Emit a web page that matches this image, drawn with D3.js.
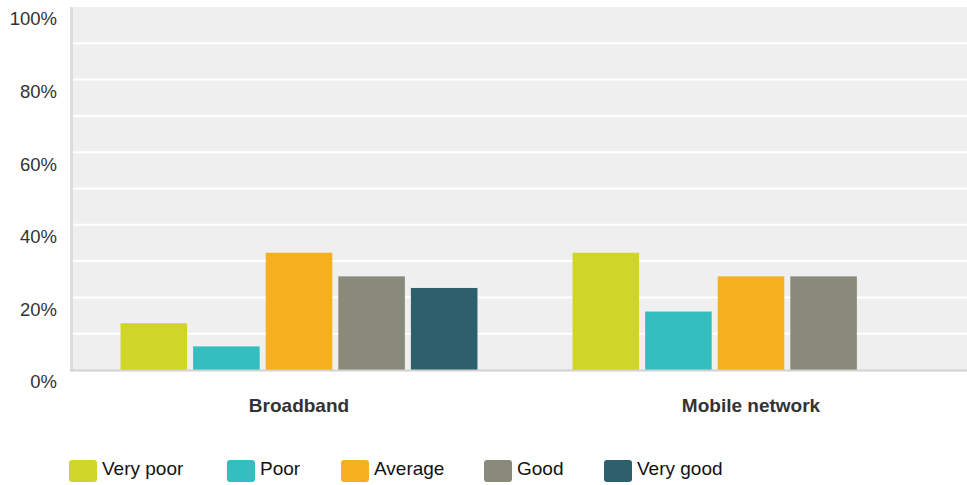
<!DOCTYPE html>
<html>
<head>
<meta charset="utf-8">
<script src="https://cdn.jsdelivr.net/npm/d3@7"></script>
<style>
  html, body { margin: 0; padding: 0; background: #ffffff; overflow: hidden; }
  svg { display: block; font-family: "Liberation Sans", Arial, sans-serif; }
</style>
</head>
<body>
<svg id="chart" width="967" height="485"></svg>
<script>
const categories = ["Broadband", "Mobile network"];
const seriesNames = ["Very poor", "Poor", "Average", "Good", "Very good"];
const seriesColors = ["#d0d52a", "#34bec0", "#f6af1e", "#8a8a7a", "#2e5f6d"];
const veryPoor = [12.9, 32.3];
const poor = [6.5, 16.1];
const average = [32.3, 25.8];
const good = [25.8, 25.8];
const veryGood = [22.6, 0];
const yTicks = [0, 20, 40, 60, 80, 100];
const yGrid = [10, 20, 30, 40, 50, 60, 70, 80, 90];

const seriesValues = [veryPoor, poor, average, good, veryGood];

(function () {
const svg = d3.select("#chart");
const pLeft = 73, pRight = 977, pTop = 7, pBottom = 370;

const x0 = d3.scaleBand().domain(categories).range([pLeft, pRight]).paddingInner(0).paddingOuter(0);
const x1 = d3.scaleBand().domain(seriesNames).range([0, x0.bandwidth()]).paddingInner(0.083).paddingOuter(0.655);
const y = d3.scaleLinear().domain([0, 100]).range([pBottom, pTop]);

// background
svg.append("rect").attr("x", pLeft).attr("y", pTop).attr("width", pRight - pLeft).attr("height", pBottom - pTop).attr("fill", "#efefef");

// gridlines
svg.append("g").selectAll("line").data(yGrid).join("line")
  .attr("x1", pLeft).attr("x2", pRight)
  .attr("y1", d => y(d)).attr("y2", d => y(d))
  .attr("stroke", "#ffffff").attr("stroke-width", 2);

// bars
const groups = svg.append("g").selectAll("g").data(categories).join("g")
  .attr("transform", d => `translate(${x0(d)},0)`);
groups.selectAll("rect").data((c, ci) => seriesNames.map((s, si) => ({ s, si, v: seriesValues[si][ci] })))
  .join("rect")
  .attr("x", d => x1(d.s))
  .attr("width", x1.bandwidth())
  .attr("y", d => y(d.v))
  .attr("height", d => y(0) - y(d.v))
  .attr("fill", d => seriesColors[d.si]);

// axis lines
svg.append("line").attr("x1", pLeft - 1.5).attr("x2", pLeft - 1.5).attr("y1", pTop).attr("y2", pBottom + 1)
  .attr("stroke", "#dcdcdc").attr("stroke-width", 3);
svg.append("line").attr("x1", pLeft - 3).attr("x2", pRight).attr("y1", pBottom + 0.5).attr("y2", pBottom + 0.5)
  .attr("stroke", "#d2d2d2").attr("stroke-width", 2);

// y labels
const yAxis = d3.axisLeft(y).tickValues(yTicks).tickFormat(d => d + "%").tickSize(0).tickPadding(0);
const ya = svg.append("g").attr("transform", `translate(57,12)`).call(yAxis);
ya.select(".domain").remove();
ya.selectAll("text").attr("font-size", 18.5).attr("fill", "#333").attr("font-family", "Liberation Sans, Arial, sans-serif");

// x labels
const xAxis = d3.axisBottom(x0).tickSize(0).tickPadding(0);
const xa = svg.append("g").attr("transform", `translate(0,${pBottom + 28})`).call(xAxis);
xa.select(".domain").remove();
xa.selectAll("text").attr("font-size", 19).attr("font-weight", "bold").attr("fill", "#333").attr("font-family", "Liberation Sans, Arial, sans-serif");

// legend
const legendX = [69, 227, 341, 484, 604];
const lg = svg.append("g").selectAll("g").data(seriesNames).join("g")
  .attr("transform", (d, i) => `translate(${legendX[i]},460)`);
lg.append("rect").attr("width", 28).attr("height", 22).attr("rx", 3).attr("fill", (d, i) => seriesColors[i]);
lg.append("text").attr("x", 33).attr("y", 15)
  .attr("font-size", 19).attr("fill", "#111").text(d => d);
})();
</script>
</body>
</html>
